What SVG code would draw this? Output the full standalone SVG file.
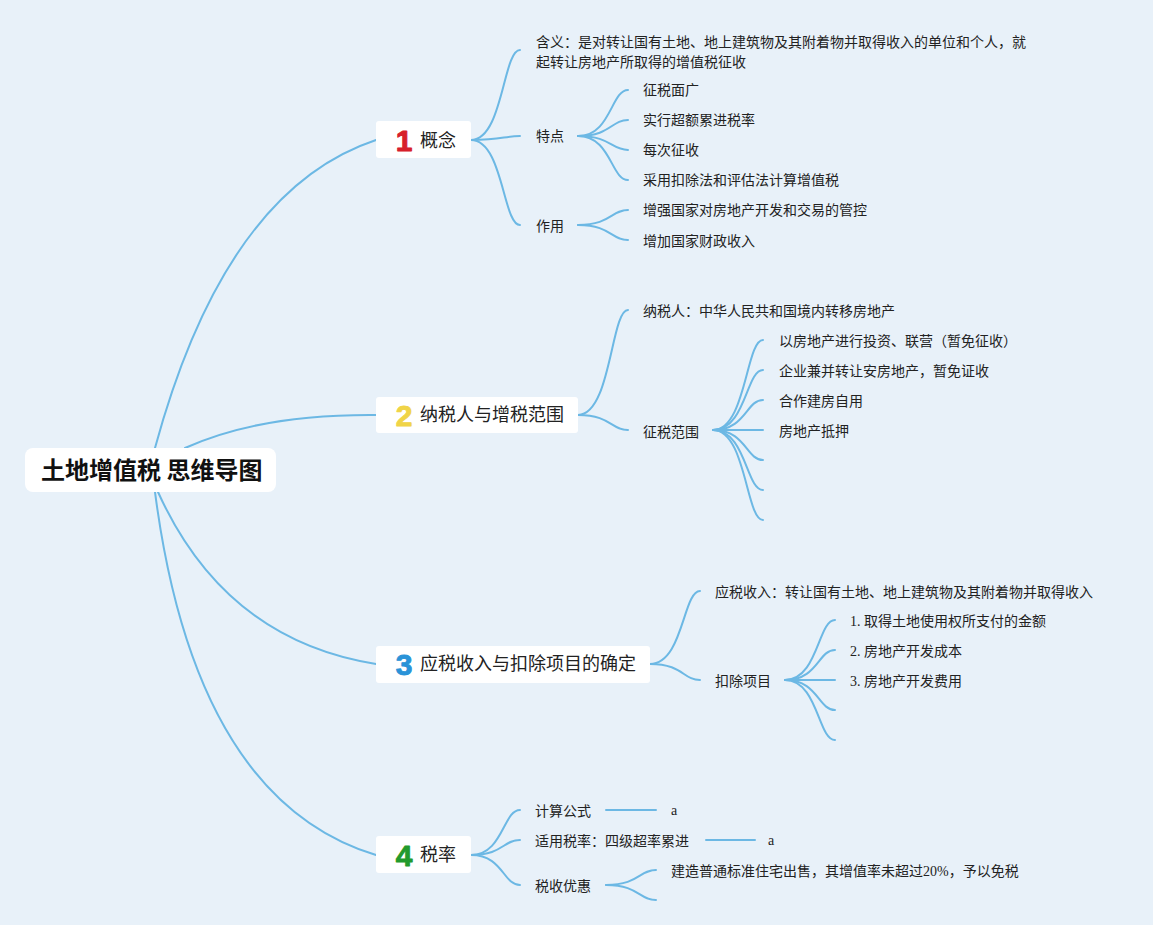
<svg xmlns="http://www.w3.org/2000/svg" width="1153" height="925" viewBox="0 0 1153 925">
<style>
.ln{fill:none;stroke:#6cb8e4;stroke-width:2;stroke-linecap:round}
.box{fill:#ffffff}
.t{font-family:"Liberation Serif","Noto Sans CJK SC",serif;font-size:14px;fill:#222}
.l1{font-family:"Noto Sans CJK SC",sans-serif;font-size:18px;fill:#222}
.num{font-family:"Liberation Sans",Arial,sans-serif;font-size:30px;font-weight:bold;text-anchor:middle;stroke-width:0.9px;stroke-linejoin:round}
.root{font-family:"Noto Sans CJK SC",sans-serif;font-size:24px;font-weight:bold;fill:#111}
</style>
<rect x="0" y="0" width="1153" height="925" fill="#e8f1f9"/>
<g id="connectors">
<path class="ln" d="M155,448 Q225,190 376,140"/>
<path class="ln" d="M185,448 Q260,414 376,415"/>
<path class="ln" d="M158,492 Q225,640 376,664"/>
<path class="ln" d="M155,492 Q195,800 376,855"/>
<path class="ln" d="M471,140 C503,140 503,50 520,50"/>
<path class="ln" d="M471,140 C503,140 503,136 520,136"/>
<path class="ln" d="M471,140 C503,140 503,225 520,225"/>
<path class="ln" d="M578,136 C611,136 611,90 628,90"/>
<path class="ln" d="M578,136 C611,136 611,120 628,120"/>
<path class="ln" d="M578,136 C611,136 611,150 628,150"/>
<path class="ln" d="M578,136 C611,136 611,180 628,180"/>
<path class="ln" d="M578,225 C611,225 611,210 628,210"/>
<path class="ln" d="M578,225 C611,225 611,240 628,240"/>
<path class="ln" d="M578,415 C611,415 611,310 628,310"/>
<path class="ln" d="M578,415 C611,415 611,430 628,430"/>
<path class="ln" d="M713,430 C746,430 746,340 763,340"/>
<path class="ln" d="M713,430 C746,430 746,370 763,370"/>
<path class="ln" d="M713,430 C746,430 746,400 763,400"/>
<path class="ln" d="M713,430 L763,430"/>
<path class="ln" d="M713,430 C746,430 746,460 763,460"/>
<path class="ln" d="M713,430 C746,430 746,490 763,490"/>
<path class="ln" d="M713,430 C746,430 746,520 763,520"/>
<path class="ln" d="M650,664 C683,664 683,591 700,591"/>
<path class="ln" d="M650,664 C683,664 683,680 700,680"/>
<path class="ln" d="M785,680 C818,680 818,620 835,620"/>
<path class="ln" d="M785,680 C818,680 818,650 835,650"/>
<path class="ln" d="M785,680 L835,680"/>
<path class="ln" d="M785,680 C818,680 818,710 835,710"/>
<path class="ln" d="M785,680 C818,680 818,740 835,740"/>
<path class="ln" d="M471,855 C503,855 503,810 520,810"/>
<path class="ln" d="M471,855 C503,855 503,840 520,840"/>
<path class="ln" d="M471,855 C503,855 503,885 520,885"/>
<path class="ln" d="M606,810 L656,810"/>
<path class="ln" d="M706,840 L755,840"/>
<path class="ln" d="M606,885 C639,885 639,870 656,870"/>
<path class="ln" d="M606,885 C639,885 639,900 656,900"/>
</g>
<g id="root">
<rect class="box" x="25" y="448" width="251" height="44" rx="8"/>
<text class="root" x="41" y="479">土地增值税 思维导图</text>
</g>
<g id="n1">
<rect class="box" x="376" y="121" width="95" height="37" rx="3"/>
<text class="num" x="404" y="151" fill="#d7202b" stroke="#d7202b">1</text>
<text class="l1" x="420" y="146.5">概念</text>
</g>
<g id="n1-meaning"><text class="t" x="536" y="47">含义：是对转让国有土地、地上建筑物及其附着物并取得收入的单位和个人，就</text><text class="t" x="536" y="67">起转让房地产所取得的增值税征收</text></g>
<g id="n1-feature"><text class="t" x="536" y="141">特点</text></g>
<g id="n1-f1"><text class="t" x="643" y="95">征税面广</text></g>
<g id="n1-f2"><text class="t" x="643" y="125">实行超额累进税率</text></g>
<g id="n1-f3"><text class="t" x="643" y="155">每次征收</text></g>
<g id="n1-f4"><text class="t" x="643" y="185">采用扣除法和评估法计算增值税</text></g>
<g id="n1-use"><text class="t" x="536" y="231">作用</text></g>
<g id="n1-u1"><text class="t" x="643" y="215">增强国家对房地产开发和交易的管控</text></g>
<g id="n1-u2"><text class="t" x="643" y="246">增加国家财政收入</text></g>
<g id="n2">
<rect class="box" x="376" y="397" width="202" height="36" rx="3"/>
<text class="num" x="404" y="426" fill="#f0d447" stroke="#f0d447">2</text>
<text class="l1" x="420" y="421">纳税人与增税范围</text>
</g>
<g id="n2-payer"><text class="t" x="643" y="316">纳税人：中华人民共和国境内转移房地产</text></g>
<g id="n2-scope"><text class="t" x="643" y="437">征税范围</text></g>
<g id="n2-s1"><text class="t" x="779" y="346">以房地产进行投资、联营（暂免征收）</text></g>
<g id="n2-s2"><text class="t" x="779" y="376">企业兼并转让安房地产，暂免证收</text></g>
<g id="n2-s3"><text class="t" x="779" y="406">合作建房自用</text></g>
<g id="n2-s4"><text class="t" x="779" y="436">房地产抵押</text></g>
<g id="n3">
<rect class="box" x="376" y="646" width="274" height="37" rx="3"/>
<text class="num" x="404" y="675" fill="#2a93d8" stroke="#2a93d8">3</text>
<text class="l1" x="420" y="670">应税收入与扣除项目的确定</text>
</g>
<g id="n3-income"><text class="t" x="715" y="597">应税收入：转让国有土地、地上建筑物及其附着物并取得收入</text></g>
<g id="n3-deduct"><text class="t" x="715" y="686">扣除项目</text></g>
<g id="n3-d1"><text class="t" x="850" y="626">1. 取得土地使用权所支付的金额</text></g>
<g id="n3-d2"><text class="t" x="850" y="656">2. 房地产开发成本</text></g>
<g id="n3-d3"><text class="t" x="850" y="686">3. 房地产开发费用</text></g>
<g id="n4">
<rect class="box" x="376" y="836" width="95" height="37" rx="3"/>
<text class="num" x="404" y="866" fill="#229a2c" stroke="#229a2c">4</text>
<text class="l1" x="420" y="861">税率</text>
</g>
<g id="n4-formula"><text class="t" x="535" y="816">计算公式</text><text class="t" x="671" y="815">a</text></g>
<g id="n4-rate"><text class="t" x="535" y="846">适用税率：四级超率累进</text><text class="t" x="768" y="845">a</text></g>
<g id="n4-pref"><text class="t" x="535" y="891">税收优惠</text></g>
<g id="n4-p1"><text class="t" x="671" y="876">建造普通标准住宅出售，其增值率未超过20%，予以免税</text></g>
</svg>
